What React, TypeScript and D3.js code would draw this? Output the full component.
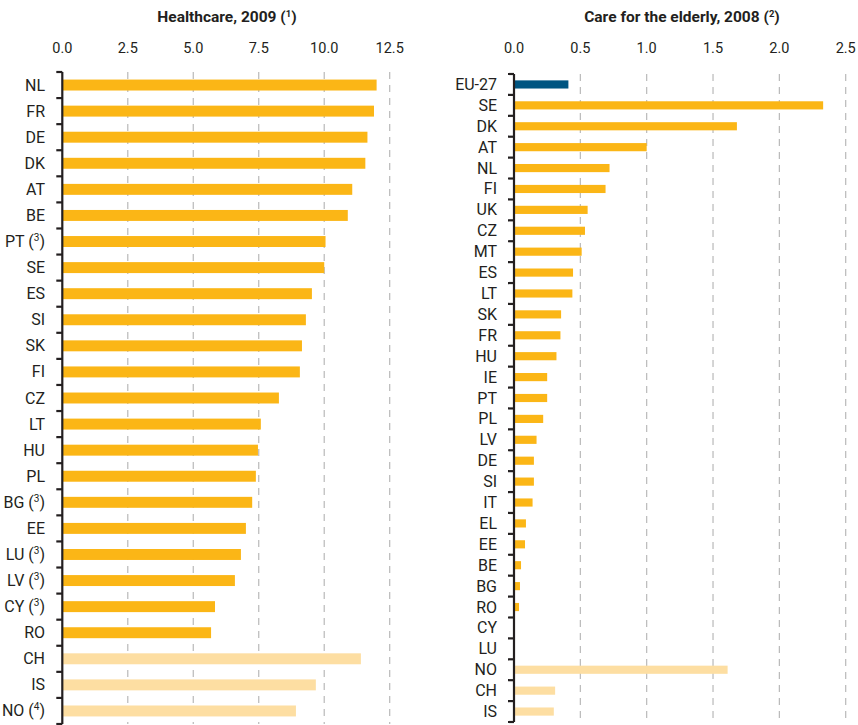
import React from "react";
import * as d3 from "d3";

// ---- Healthcare, 2009 ----
const healthCountries = ["NL", "FR", "DE", "DK", "AT", "BE", "PT", "SE", "ES", "SI", "SK", "FI", "CZ", "LT", "HU", "PL", "BG", "EE", "LU", "LV", "CY", "RO", "CH", "IS", "NO"];
const healthNotes = ["", "", "", "", "", "", "3", "", "", "", "", "", "", "", "", "", "3", "", "3", "3", "3", "", "", "", "4"];
const healthValues = [12.0, 11.9, 11.65, 11.57, 11.07, 10.9, 10.05, 10.0, 9.53, 9.3, 9.15, 9.07, 8.27, 7.58, 7.47, 7.39, 7.25, 7.01, 6.82, 6.59, 5.83, 5.68, 11.4, 9.68, 8.92];
const healthGroups = ["eu", "eu", "eu", "eu", "eu", "eu", "eu", "eu", "eu", "eu", "eu", "eu", "eu", "eu", "eu", "eu", "eu", "eu", "eu", "eu", "eu", "eu", "efta", "efta", "efta"];
const healthTicks = [0, 2.5, 5, 7.5, 10, 12.5];

// ---- Care for the elderly, 2008 ----
const elderlyCountries = ["EU-27", "SE", "DK", "AT", "NL", "FI", "UK", "CZ", "MT", "ES", "LT", "SK", "FR", "HU", "IE", "PT", "PL", "LV", "DE", "SI", "IT", "EL", "EE", "BE", "BG", "RO", "CY", "LU", "NO", "CH", "IS"];
const elderlyValues = [0.41, 2.33, 1.68, 1.0, 0.72, 0.69, 0.555, 0.535, 0.51, 0.445, 0.44, 0.355, 0.35, 0.32, 0.25, 0.25, 0.22, 0.17, 0.15, 0.15, 0.14, 0.09, 0.083, 0.053, 0.045, 0.038, 0, 0, 1.61, 0.31, 0.30];
const elderlyGroups = ["agg", "eu", "eu", "eu", "eu", "eu", "eu", "eu", "eu", "eu", "eu", "eu", "eu", "eu", "eu", "eu", "eu", "eu", "eu", "eu", "eu", "eu", "eu", "eu", "eu", "eu", "eu", "eu", "efta", "efta", "efta"];
const elderlyTicks = [0, 0.5, 1, 1.5, 2, 2.5];

const COLORS: Record<string, string> = { eu: "#fbb616", efta: "#fddea2", agg: "#005581" };
const FONT = "Roboto, 'Open Sans', sans-serif";
const AXIS = "#231f20";
const TEXT = "#231f20";

type PanelProps = {
  title: string;
  titleNote: string;
  titleX: number;
  categories: string[];
  notes?: string[];
  values: number[];
  groups: string[];
  ticks: number[];
  x0: number;
  x1: number;
  y0: number;
  y1: number;
  padInner: number;
  labelRight: number;
};

function Panel(p: PanelProps) {
  const x = d3.scaleLinear().domain([p.ticks[0], p.ticks[p.ticks.length - 1]]).range([p.x0, p.x1]);
  const y = d3
    .scaleBand<string>()
    .domain(p.categories)
    .range([p.y0, p.y1])
    .paddingInner(p.padInner)
    .paddingOuter(p.padInner / 2);
  const step = y.step();
  const bw = y.bandwidth();
  const boundaries = p.categories.map((c) => (y(c) as number) - (step * p.padInner) / 2);
  boundaries.push(p.y1);
  const fmt = d3.format(".1f");
  return (
    <g>
      <text x={p.titleX} y={22} textAnchor="middle" fontFamily={FONT} fontWeight={700} fontSize={15.5} fill={TEXT}>
        {p.title} (
        <tspan fontSize={9.5} dy={-5}>{p.titleNote}</tspan>
        <tspan dy={5}>)</tspan>
      </text>
      {p.ticks.map((t) => (
        <text key={"tl" + t} x={x(t)} y={52.5} textAnchor="middle" fontFamily={FONT} fontSize={14.5} fill={TEXT}>
          {fmt(t)}
        </text>
      ))}
      {p.ticks.slice(1).map((t) => (
        <line key={"g" + t} x1={x(t)} x2={x(t)} y1={p.y0} y2={p.y1} stroke="#b9b9b9" strokeWidth={1.2} strokeDasharray="7,6" />
      ))}
      {p.categories.map((c, i) => (
        <rect key={"b" + c} x={x(0)} y={y(c)} width={Math.max(0, x(p.values[i]) - x(0))} height={bw} fill={COLORS[p.groups[i]]} />
      ))}
      {p.categories.map((c, i) => (
        <text key={"l" + c} x={p.labelRight} y={(y(c) as number) + bw / 2 + 5.5} textAnchor="end" fontFamily={FONT} fontSize={16} fill={TEXT}>
          {c}
          {p.notes && p.notes[i] ? (
            <>
              {" ("}
              <tspan fontSize={10} dy={-6}>{p.notes[i]}</tspan>
              <tspan dy={6}>)</tspan>
            </>
          ) : null}
        </text>
      ))}
      <line x1={x(0)} x2={x(0)} y1={p.y0} y2={p.y1} stroke={AXIS} strokeWidth={2.2} />
      {boundaries.map((b, i) => (
        <line key={"t" + i} x1={x(0) - 6} x2={x(0)} y1={b} y2={b} stroke={AXIS} strokeWidth={2.2} />
      ))}
    </g>
  );
}

export default function App() {
  return (
    <div style={{ position: "absolute", left: 0, top: 0 }}>
      <svg width={858} height={725} style={{ display: "block", background: "#fff" }}>
        <Panel
          title="Healthcare, 2009"
          titleNote="1"
          titleX={227}
          categories={healthCountries}
          notes={healthNotes}
          values={healthValues}
          groups={healthGroups}
          ticks={healthTicks}
          x0={62.3}
          x1={389.7}
          y0={72}
          y1={724}
          padInner={0.58}
          labelRight={45}
        />
        <Panel
          title="Care for the elderly, 2008"
          titleNote="2"
          titleX={682}
          categories={elderlyCountries}
          values={elderlyValues}
          groups={elderlyGroups}
          ticks={elderlyTicks}
          x0={514}
          x1={845.7}
          y0={74}
          y1={722}
          padInner={0.61}
          labelRight={497}
        />
      </svg>
    </div>
  );
}
